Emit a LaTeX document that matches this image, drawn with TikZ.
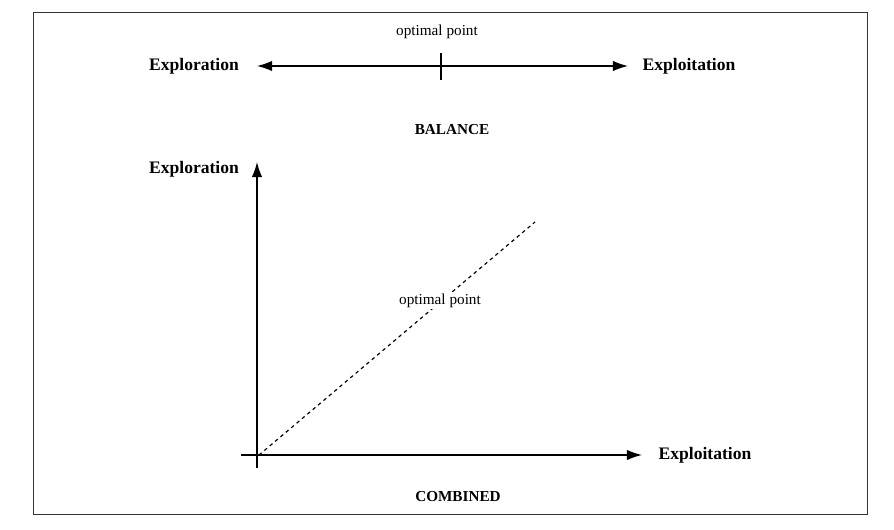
\documentclass[tikz,border=0pt]{standalone}
\usepackage{fontspec}
\setmainfont{Liberation Serif}
\usepackage{tikz}
\usetikzlibrary{arrows.meta}

\tikzset{
	axislabel/.style={font=\fontsize{15}{18}\selectfont\bfseries},
	caption/.style={font=\fontsize{13}{16}\selectfont\bfseries},
	optlabel/.style={font=\fontsize{13}{16}\selectfont}
}

\begin{document}
\begin{tikzpicture}[>={Latex[length=13pt,width=9pt]}]
\useasboundingbox (0,0) rectangle (26.82,15.87);
\draw[line width=0.6pt,draw=black!80] (0.99,0.45) rectangle (26.01,15.51);

				% balance
				\node[axislabel] (explorB) at (5.82, 13.89) {Exploration};
				\node[axislabel] (exploitB) at (20.67, 13.89) {Exploitation};
				\node[optlabel] (optB) at (13.11, 14.9) {optimal point};
				\node[caption] (balance) at (13.56, 11.97) {BALANCE};
				\coordinate (leftB) at (7.71, 13.89);
				\coordinate (rightB) at (18.84, 13.89);
				\coordinate (tickB) at (13.23, 13.89);
				\draw[line width=1.2pt,<->] (leftB) -- (rightB);
				\draw[line width=1.2pt] ([yshift=0.39cm]tickB) -- ([yshift=-0.42cm]tickB);

				% combined
				\coordinate (origin) at (7.71, 2.22);
				\coordinate (yend) at (7.71, 11.01);
				\coordinate (xend) at (19.26, 2.22);
				\coordinate (dashend) at (16.05, 9.21);
				\draw[line width=1.2pt,->] ([yshift=-0.39cm]origin) -- (yend);
				\draw[line width=1.2pt,->] ([xshift=-0.48cm]origin) -- (xend);
				\node[axislabel] (explorC) at (5.82, 10.8) {Exploration};
				\node[axislabel] (exploitC) at (21.15, 2.22) {Exploitation};
				\draw[line width=1pt,dashed] ([xshift=0.06cm]origin) -- (dashend);
				\node[optlabel, fill=white, inner sep=1pt] (optC) at (13.2, 6.84) {optimal point};
				\node[caption] (combined) at (13.74, 0.96) {COMBINED};
		\end{tikzpicture}
\end{document}
